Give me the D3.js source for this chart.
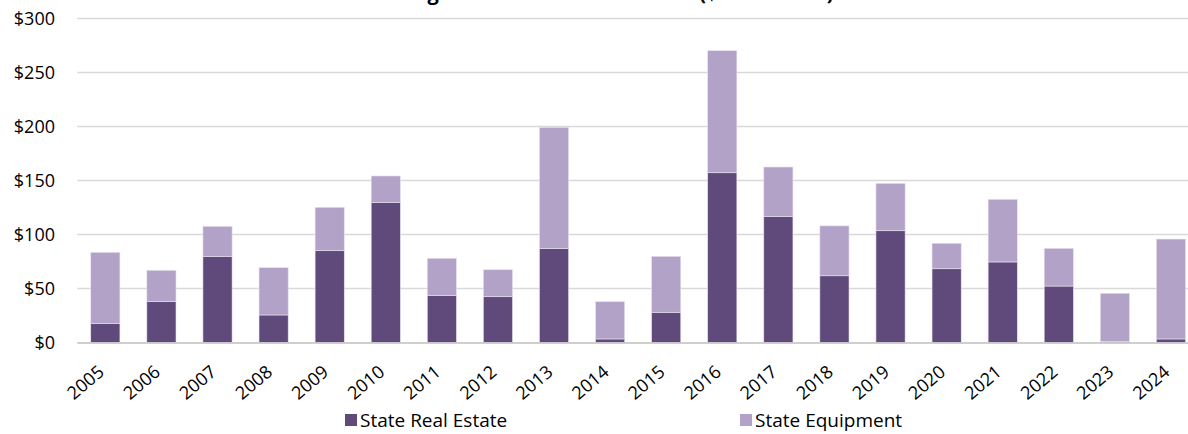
<!DOCTYPE html>
<html>
<head>
<meta charset="utf-8">
<script src="https://cdn.jsdelivr.net/npm/d3@7"></script>
<style>
  html, body { margin: 0; padding: 0; background: #fff; overflow: hidden; }
  svg { display: block; }
</style>
</head>
<body>
<svg id="chart" width="1188" height="434"></svg>
<script>
const years = ["2005","2006","2007","2008","2009","2010","2011","2012","2013","2014",
               "2015","2016","2017","2018","2019","2020","2021","2022","2023","2024"];
const realEstate = [17.6, 37.6, 79.3, 25.3, 84.8, 129.3, 43.2, 42.2, 86.7, 3.1,
                    27.8, 157, 116.3, 61.6, 103.3, 68.1, 74.4, 52.1, 0.8, 3.1];
const totals     = [83.3, 66.7, 107.4, 69.1, 125, 154, 77.8, 67.2, 199, 37.6,
                    79.6, 270, 162.3, 107.8, 147.2, 91.7, 132.4, 87, 45.4, 95.6];
const equipment  = totals.map((t, i) => +(t - realEstate[i]).toFixed(1));
const yTicks = [0, 50, 100, 150, 200, 250, 300];
const seriesNames = ["State Real Estate", "State Equipment"];
const colors = ["#604A7B", "#B3A2C7"];
const title = "Figure 3: Real Estate Sources ($ in millions)";

const svg = d3.select("#chart");
const W = 1188, H = 434;
const font = "'Open Sans', 'Noto Sans', sans-serif";

const x = d3.scaleBand().domain(years).range([77.3, 1199]).paddingInner(0.48).paddingOuter(0.24);
const y = d3.scaleLinear().domain([0, 300]).range([342.3, 18.3]);

// title (cropped at top like the reference)
svg.append("text")
  .attr("x", 622).attr("y", 0)
  .attr("text-anchor", "middle")
  .attr("font-family", font).attr("font-weight", "bold").attr("font-size", 20)
  .attr("fill", "#000")
  .text(title);

// gridlines
svg.append("g").selectAll("line").data(yTicks.filter(d => d > 0)).join("line")
  .attr("x1", 77.3).attr("x2", W)
  .attr("y1", d => Math.round(y(d)) + 0.5).attr("y2", d => Math.round(y(d)) + 0.5)
  .attr("stroke", "#d9d9d9").attr("stroke-width", 1.3);

// y axis labels
const yAxis = d3.axisLeft(y).tickValues(yTicks).tickSize(0).tickPadding(0)
  .tickFormat(d => "$" + d);
const yg = svg.append("g").attr("transform", "translate(55,0)").call(yAxis);
yg.select(".domain").remove();
yg.selectAll("text").attr("font-family", font).attr("font-size", 18).attr("fill", "#000");

// stacked bars
const stackData = years.map((yr, i) => ({year: yr, re: realEstate[i], eq: equipment[i]}));
const stack = d3.stack().keys(["re", "eq"])(stackData);
svg.append("g").selectAll("g").data(stack).join("g")
  .attr("fill", (d, i) => colors[i])
  .selectAll("rect").data(d => d).join("rect")
  .attr("x", d => x(d.data.year))
  .attr("width", x.bandwidth())
  .attr("y", d => y(d[1]))
  .attr("height", d => Math.max(0, y(d[0]) - y(d[1])))
  .attr("stroke", "#e8e2ef").attr("stroke-width", 0.6);

// x axis baseline
svg.append("line")
  .attr("x1", 77.3).attr("x2", W).attr("y1", 343).attr("y2", 343)
  .attr("stroke", "#bfbfbf").attr("stroke-width", 1.5);

// x axis labels
const xAxis = d3.axisBottom(x).tickSize(0).tickPadding(0);
const xg = svg.append("g").attr("transform", "translate(0,343)").call(xAxis);
xg.select(".domain").remove();
xg.selectAll("text")
  .attr("font-family", font).attr("font-size", 18).attr("fill", "#000")
  .attr("text-anchor", "end")
  .attr("dy", null).attr("y", 0)
  .attr("transform", "translate(0,31) rotate(-40)");

// legend
const legX = [345, 740];
const leg = svg.append("g").selectAll("g").data(seriesNames).join("g")
  .attr("transform", (d, i) => `translate(${legX[i]},427)`);
leg.append("rect").attr("x", 0).attr("y", -13).attr("width", 12).attr("height", 12)
  .attr("fill", (d, i) => colors[i]);
leg.append("text").attr("x", 15).attr("y", 0)
  .attr("font-family", font).attr("font-size", 19).attr("fill", "#000")
  .text(d => d);
</script>
</body>
</html>
